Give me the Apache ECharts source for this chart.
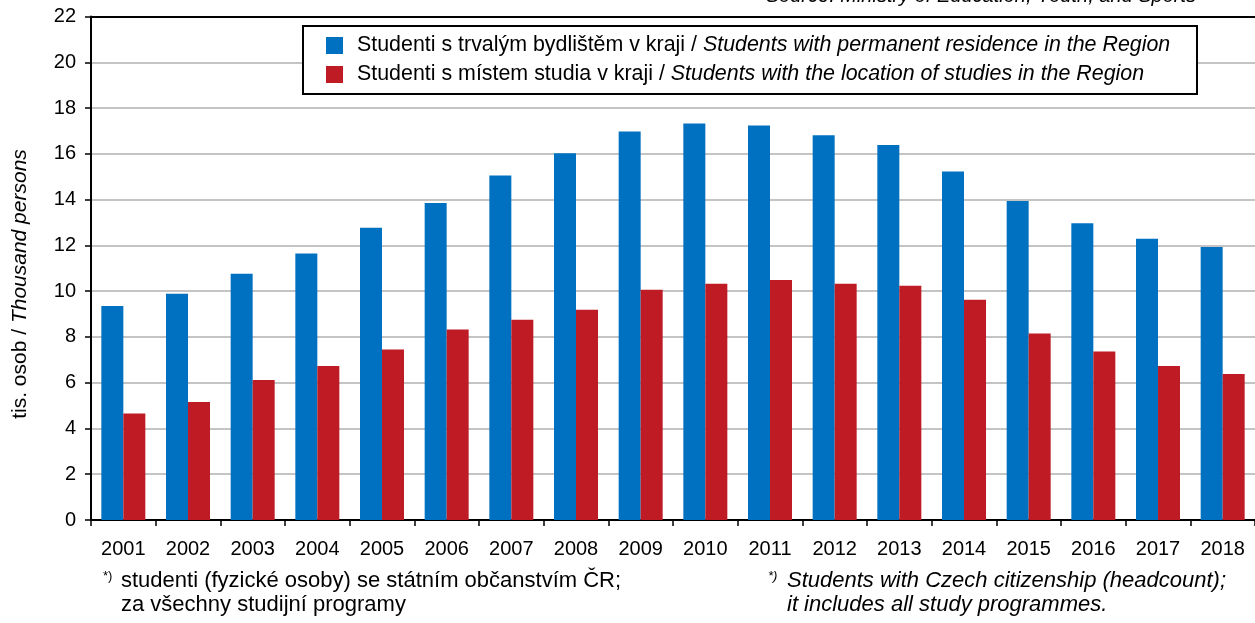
<!DOCTYPE html>
<html>
<head>
<meta charset="utf-8">
<script src="https://cdn.jsdelivr.net/npm/echarts@6/dist/echarts.min.js"></script>
<style>
html,body{margin:0;padding:0;background:#fff;}
#chart{width:1255px;height:623px;}
</style>
</head>
<body>
<div id="chart"></div>
<script>
const years = ['2001','2002','2003','2004','2005','2006','2007','2008','2009','2010','2011','2012','2013','2014','2015','2016','2017','2018'];
const permanentResidence = [9.35, 9.89, 10.76, 11.64, 12.77, 13.85, 15.05, 16.03, 16.97, 17.32, 17.24, 16.81, 16.38, 15.23, 13.94, 12.97, 12.29, 11.93];
const studyLocation = [4.65, 5.16, 6.12, 6.73, 7.45, 8.32, 8.75, 9.19, 10.06, 10.32, 10.49, 10.32, 10.23, 9.62, 8.15, 7.36, 6.73, 6.38];
const seriesNamesCz = ['Studenti s trvalým bydlištěm v kraji / ', 'Studenti s místem studia v kraji / '];
const seriesNamesEn = ['Students with permanent residence in the Region', 'Students with the location of studies in the Region'];
const yAxisMin = 0, yAxisMax = 22, yAxisStep = 2;

const FONT = '"Liberation Sans", Arial, sans-serif';
const chart = echarts.init(document.getElementById('chart'));
const names = [seriesNamesCz[0] + seriesNamesEn[0], seriesNamesCz[1] + seriesNamesEn[1]];

chart.setOption({
  animation: false,
  backgroundColor: '#fff',
  grid: { left: 91, top: 16.5, width: 1170, height: 503.5, containLabel: false },
  legend: {
    orient: 'vertical',
    left: 326, top: 35, padding: 0,
    itemWidth: 17, itemHeight: 17, itemGap: 8,
    icon: 'rect', z: 5,
    data: names,
    formatter: function (name) {
      const i = names.indexOf(name);
      return '{n|' + seriesNamesCz[i] + '}{i|' + seriesNamesEn[i] + '}';
    },
    textStyle: {
      fontFamily: FONT, fontSize: 21.4, color: '#000',
      rich: {
        n: { fontFamily: FONT, fontSize: 21.4, color: '#000', lineHeight: 22, padding: [0, 0, 0, 9] },
        i: { fontFamily: FONT, fontSize: 21.4, color: '#000', lineHeight: 22, fontStyle: 'italic' }
      }
    }
  },
  xAxis: [{
    type: 'category', data: years, position: 'bottom',
    axisLine: { lineStyle: { color: '#000', width: 2 } },
    axisTick: { show: true, length: 6, lineStyle: { color: '#000', width: 1.5 } },
    axisLabel: { color: '#000', fontFamily: FONT, fontSize: 20, margin: 19 }
  }, {
    type: 'category', data: years, position: 'top',
    axisLine: { lineStyle: { color: '#000', width: 2 } },
    axisTick: { show: false }, axisLabel: { show: false }
  }],
  yAxis: {
    type: 'value', min: yAxisMin, max: yAxisMax, interval: yAxisStep,
    axisLine: { show: true, lineStyle: { color: '#000', width: 2 } },
    axisTick: { show: true, length: 6, lineStyle: { color: '#000', width: 1.5 } },
    axisLabel: { color: '#000', fontFamily: FONT, fontSize: 20, margin: 15 },
    splitLine: { show: true, lineStyle: { color: '#c4c4c4', width: 2 } }
  },
  series: [{
    name: names[0], type: 'bar', data: permanentResidence,
    barWidth: 22, barGap: '0%',
    itemStyle: { color: '#0070c0' }
  }, {
    name: names[1], type: 'bar', data: studyLocation,
    barWidth: 22, barGap: '0%',
    itemStyle: { color: '#be1b24' }
  }],
  graphic: [
    { type: 'rect', z: 3, shape: { x: 303, y: 26, width: 894, height: 68 },
      style: { fill: '#fff', stroke: '#000', lineWidth: 2 } },
    { type: 'text', z: 5, x: 1196, y: 6,
      style: { text: 'Source: Ministry of Education, Youth, and Sports', font: 'italic 20px ' + FONT, fill: '#000', align: 'right', verticalAlign: 'bottom' } },
    { type: 'text', z: 5, x: 20, y: 284, rotation: Math.PI / 2,
      style: { text: '{n|tis. osob / }{i|Thousand persons}', align: 'center', verticalAlign: 'middle', fill: '#000',
        rich: { n: { fontFamily: FONT, fontSize: 21, fill: '#000' }, i: { fontFamily: FONT, fontSize: 21, fontStyle: 'italic', fill: '#000' } } } },
    { type: 'text', z: 5, x: 103, y: 576,
      style: { text: '*)', font: '13px ' + FONT, fill: '#000', verticalAlign: 'middle' } },
    { type: 'text', z: 5, x: 121, y: 581,
      style: { text: 'studenti (fyzické osoby) se státním občanstvím ČR;', font: '22px ' + FONT, fill: '#000', verticalAlign: 'middle' } },
    { type: 'text', z: 5, x: 121, y: 605,
      style: { text: 'za všechny studijní programy', font: '22px ' + FONT, fill: '#000', verticalAlign: 'middle' } },
    { type: 'text', z: 5, x: 768, y: 576,
      style: { text: '*)', font: 'italic 13px ' + FONT, fill: '#000', verticalAlign: 'middle' } },
    { type: 'text', z: 5, x: 787, y: 581,
      style: { text: 'Students with Czech citizenship (headcount);', font: 'italic 22px ' + FONT, fill: '#000', verticalAlign: 'middle' } },
    { type: 'text', z: 5, x: 787, y: 605,
      style: { text: 'it includes all study programmes.', font: 'italic 22px ' + FONT, fill: '#000', verticalAlign: 'middle' } }
  ]
});
</script>
</body>
</html>
